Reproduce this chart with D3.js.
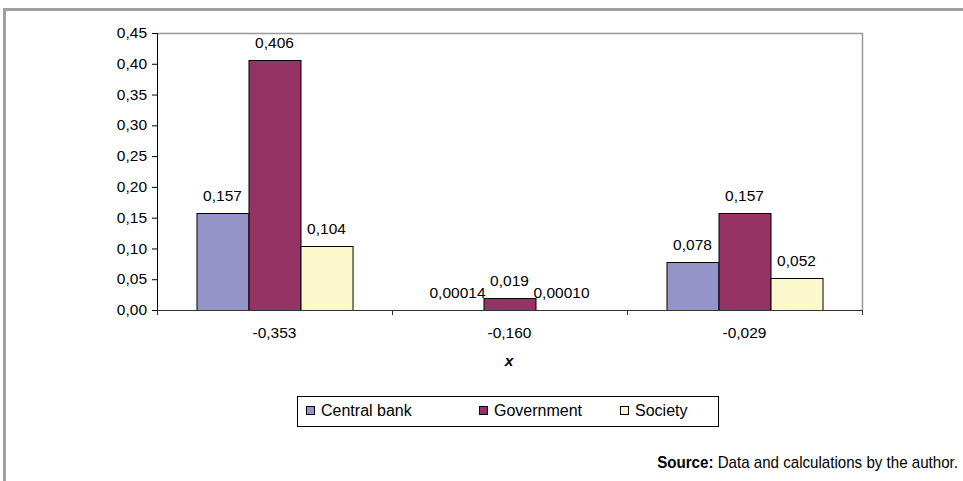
<!DOCTYPE html>
<html>
<head>
<meta charset="utf-8">
<script src="https://cdnjs.cloudflare.com/ajax/libs/d3/7.8.5/d3.min.js"></script>
<style>
  html, body { margin: 0; padding: 0; background: #fff; }
  svg { display: block; font-family: "Liberation Sans", Arial, sans-serif; }
</style>
</head>
<body>
<div id="chart"></div>
<script>
// data
var categories = ["-0,353", "-0,160", "-0,029"];
var seriesNames = ["Central bank", "Government", "Society"];
var centralBank = [0.157, 0.00014, 0.078];
var government = [0.406, 0.019, 0.157];
var society = [0.104, 0.00010, 0.052];
var yTicks = [0, 0.05, 0.10, 0.15, 0.20, 0.25, 0.30, 0.35, 0.40, 0.45];

var colors = ["#9494c9", "#943364", "#fbf9cc"];
var series = [centralBank, government, society];

var W = 963, H = 481;
var plot = {left: 157, right: 862, top: 33, bottom: 310};
var sx = 1.07;       // labels in the picture are a little wide
var fs = "14.5px";

var svg = d3.select("#chart").append("svg")
    .attr("width", W)
    .attr("height", H);

// outer frame (only top and left show)
svg.append("line").attr("x1", 4.5).attr("x2", W).attr("y1", 9.5).attr("y2", 9.5)
    .attr("stroke", "#a0a0a0").attr("stroke-width", 3);
svg.append("line").attr("x1", 4.5).attr("x2", 4.5).attr("y1", 8).attr("y2", H)
    .attr("stroke", "#a0a0a0").attr("stroke-width", 3);

// scales
var x0 = d3.scaleBand()
    .domain(categories)
    .range([plot.left, plot.right])
    .paddingInner(0.336)
    .paddingOuter(0.168);
var x1 = d3.scaleBand()
    .domain(seriesNames)
    .range([0, x0.bandwidth()]);
var y = d3.scaleLinear()
    .domain([0, 0.45])
    .range([plot.bottom, plot.top]);

function fmt(v) {
    return (v < 0.001 ? v.toFixed(5) : v.toFixed(3)).replace(".", ",");
}

// plot area border top & right
svg.append("path")
    .attr("d", "M" + plot.left + "," + (plot.top + 0.5) + "H" + (plot.right + 0.5) + "V" + plot.bottom)
    .attr("fill", "none")
    .attr("stroke", "#999")
    .attr("stroke-width", 1.5);

// bars
var groups = svg.selectAll(".grp")
    .data(categories)
    .enter().append("g")
    .attr("class", "grp")
    .attr("transform", function(d) { return "translate(" + x0(d) + ",0)"; });

groups.selectAll("rect")
    .data(function(d, i) { return series.map(function(s, j) { return {name: seriesNames[j], v: s[i], j: j}; }); })
    .enter().append("rect")
    .attr("x", function(d) { return x1(d.name) + 0.5; })
    .attr("y", function(d) { return Math.round(y(d.v)) + 0.5; })
    .attr("width", x1.bandwidth())
    .attr("height", function(d) { return Math.max(0, plot.bottom - Math.round(y(d.v))); })
    .attr("fill", function(d) { return colors[d.j]; })
    .attr("stroke", "#000")
    .attr("stroke-width", 1);

groups.selectAll("text")
    .data(function(d, i) { return series.map(function(s, j) { return {name: seriesNames[j], v: s[i]}; }); })
    .enter().append("text")
    .attr("transform", function(d) {
        return "translate(" + (x1(d.name) + x1.bandwidth() / 2) + "," + (y(d.v) - 12) + ") scale(" + sx + ",1)";
    })
    .attr("text-anchor", "middle")
    .style("font-size", fs)
    .attr("fill", "#000")
    .text(function(d) { return fmt(d.v); });

// y axis
var yAxis = svg.append("g")
    .attr("transform", "translate(" + plot.left + ",0)")
    .call(d3.axisLeft(y)
        .tickValues(yTicks)
        .tickSize(5)
        .tickPadding(5)
        .tickFormat(function(d) { return d.toFixed(2).replace(".", ","); }));
yAxis.select(".domain").attr("stroke", "#000");
yAxis.selectAll(".tick line").attr("stroke", "#000");
yAxis.selectAll("text")
    .attr("x", -10 / sx)
    .attr("transform", "scale(" + sx + ",1)")
    .style("font-size", fs)
    .style("font-family", "Liberation Sans, Arial, sans-serif")
    .attr("fill", "#000");

// x axis line with ticks between categories
var step = x0.step();
var bounds = categories.map(function(c) { return x0(c) - step * x0.paddingInner() / 2; });
bounds.push(plot.right);
svg.append("line")
    .attr("x1", plot.left).attr("x2", plot.right + 1)
    .attr("y1", plot.bottom + 0.5).attr("y2", plot.bottom + 0.5)
    .attr("stroke", "#333");
svg.selectAll(".xtick")
    .data(bounds)
    .enter().append("line")
    .attr("class", "xtick")
    .attr("x1", function(d) { return Math.round(d) + 0.5; })
    .attr("x2", function(d) { return Math.round(d) + 0.5; })
    .attr("y1", plot.bottom)
    .attr("y2", plot.bottom + 5)
    .attr("stroke", "#333");

svg.selectAll(".xlab")
    .data(categories)
    .enter().append("text")
    .attr("class", "xlab")
    .attr("transform", function(d) { return "translate(" + (x0(d) + x0.bandwidth() / 2) + ",338) scale(" + sx + ",1)"; })
    .attr("text-anchor", "middle")
    .style("font-size", fs)
    .text(function(d) { return d; });

// axis title
svg.append("text")
    .attr("transform", "translate(509,366) scale(" + sx + ",1)")
    .attr("text-anchor", "middle")
    .style("font-size", fs)
    .style("font-weight", "bold")
    .style("font-style", "italic")
    .text("x");

// legend
var legend = svg.append("g");
legend.append("rect")
    .attr("x", 297.5).attr("y", 396.5)
    .attr("width", 421).attr("height", 30)
    .attr("fill", "#fff")
    .attr("stroke", "#000");
var legendX = [306, 479, 620];
var items = legend.selectAll(".li")
    .data(seriesNames)
    .enter().append("g")
    .attr("transform", function(d, i) { return "translate(" + legendX[i] + ",0)"; });
items.append("rect")
    .attr("x", 0.5).attr("y", 406.5)
    .attr("width", 8).attr("height", 8)
    .attr("fill", function(d, i) { return colors[i]; })
    .attr("stroke", "#000");
items.append("text")
    .attr("x", 15)
    .attr("y", 416)
    .style("font-size", "16px")
    .text(function(d) { return d; });

// source note
var src = svg.append("text")
    .attr("transform", "translate(958,468) scale(0.89,1)")
    .attr("text-anchor", "end")
    .style("font-size", "17px");
src.append("tspan").style("font-weight", "bold").text("Source:");
src.append("tspan").text(" Data and calculations by the author.");
</script>
</body>
</html>
